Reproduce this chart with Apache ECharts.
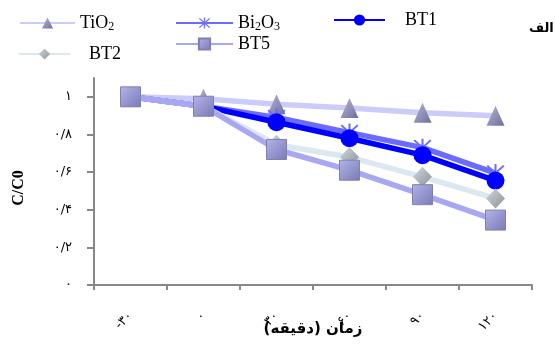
<!DOCTYPE html>
<html><head><meta charset="utf-8">
<script src="https://cdn.jsdelivr.net/npm/echarts@6/dist/echarts.min.js"></script>
<style>html,body{margin:0;padding:0;background:#fff}#c{width:555px;height:347px}</style>
</head><body><div id="c"></div>
<script>
const categories = ['-۳۰', '۰', '۳۰', '۶۰', '۹۰', '۱۲۰'];
const seriesNames = ['TiO2', 'Bi2O3', 'BT1', 'BT2', 'BT5'];
const tio2 = [1.0, 0.99, 0.96, 0.94, 0.915, 0.90];
const bi2o3 = [1.0, 0.95, 0.89, 0.81, 0.73, 0.595];
const bt1 = [1.0, 0.95, 0.865, 0.78, 0.69, 0.555];
const bt2 = [1.0, 0.95, 0.745, 0.68, 0.575, 0.46];
const bt5 = [1.0, 0.95, 0.72, 0.61, 0.48, 0.345];
const yTicks = [0, 0.2, 0.4, 0.6, 0.8, 1.0];
const yTickLabels = ['۰', '۰/۲', '۰/۴', '۰/۶', '۰/۸', '۱'];

const starPath = 'path://M9,0L11,0L11,20L9,20Z M1,2.4L2.4,1L19,17.6L17.6,19Z M19,2.4L17.6,1L1,17.6L2.4,19Z';
const serif = 'Liberation Serif';
const rich = { s: { fontSize: 12, fontFamily: serif, padding: [8, 0, 0, 0] }, n: { fontSize: 18, fontFamily: serif } };
function leg(name, left, top, w, pad) {
  return {
    data: [name], left: left, top: top, padding: 0, itemWidth: w, itemHeight: 14,
    formatter: function (n) {
      if (n === 'TiO2') return '{n|TiO}{s|2}';
      if (n === 'Bi2O3') return '{n|Bi}{s|2}{n|O}{s|3}';
      return '{n|' + n + '}';
    },
    textStyle: { fontSize: 18, fontFamily: serif, color: '#000', padding: [0, 0, 0, pad], rich: rich }
  };
}
function grad(c1, c2) {
  return new echarts.graphic.LinearGradient(0, 0, 1, 1, [{ offset: 0, color: c1 }, { offset: 1, color: c2 }]);
}
const chart = echarts.init(document.getElementById('c'), null, { renderer: 'canvas' });
chart.setOption({
  animation: false,
  backgroundColor: '#fff',
  legend: [
    leg('TiO2', 19, 14, 55, 0),
    leg('Bi2O3', 175, 14, 57, 0),
    leg('BT1', 333, 11, 51, 15),
    leg('BT2', 18, 45, 51, 14),
    leg('BT5', 175, 35, 57, 0)
  ],
  graphic: [{
    type: 'text', left: 529, top: 22,
    style: { text: 'الف', font: 'bold 13px "DejaVu Sans"', fill: '#000' }
  }, {
    type: 'text', x: 19, y: 188, rotation: Math.PI / 2,
    style: { text: 'C/C0', font: 'bold 16px "Liberation Serif"', fill: '#000', align: 'center', verticalAlign: 'middle' }
  }],
  grid: { left: 94, right: 23, top: 78, bottom: 62, outerBoundsMode: 'none', containLabel: false },
  xAxis: {
    type: 'category', data: categories, boundaryGap: true,
    axisLine: { lineStyle: { color: '#888', width: 2 } },
    axisTick: { show: true, interval: 0, length: 5, lineStyle: { color: '#888', width: 2 } },
    axisLabel: { interval: 0, rotate: 45, margin: 29, fontSize: 13, fontFamily: 'DejaVu Sans', color: '#000' },
    name: 'زمان (دقیقه)', nameLocation: 'middle', nameGap: 37, nameMoveOverlap: false,
    nameTextStyle: { fontSize: 15, fontWeight: 'bold', fontFamily: 'DejaVu Sans', color: '#000' }
  },
  yAxis: {
    type: 'value', min: 0, max: 1.1, interval: 0.2,
    axisLine: { show: true, lineStyle: { color: '#888', width: 2 } },
    axisTick: { show: true, length: 7, lineStyle: { color: '#888', width: 2 }, customValues: yTicks },
    axisLabel: {
      margin: 22, fontSize: 13, fontFamily: 'DejaVu Sans', color: '#000', customValues: yTicks,
      formatter: function (v) { const i = yTicks.findIndex(t => Math.abs(t - v) < 1e-6); return i >= 0 ? yTickLabels[i] : ''; }
    },
    splitLine: { show: false }
  },
  series: [
    { name: 'TiO2', type: 'line', data: tio2, symbol: 'triangle', symbolSize: [18, 20],
      lineStyle: { color: '#ccccfa', width: 5.5 }, itemStyle: { color: grad('#b8b8dc', '#6e6e98') }, color: '#ccccfa' },
    { name: 'Bi2O3', type: 'line', data: bi2o3, symbol: starPath, symbolSize: 18,
      lineStyle: { color: '#6b6bff', width: 5.5 }, itemStyle: { color: '#6b6bff' }, color: '#6b6bff' },
    { name: 'BT1', type: 'line', data: bt1, symbol: 'circle', symbolSize: 18,
      lineStyle: { color: '#0000ff', width: 5.5 }, itemStyle: { color: '#0000ff' }, color: '#0000ff' },
    { name: 'BT2', type: 'line', data: bt2, symbol: 'diamond', symbolSize: [19, 20],
      lineStyle: { color: '#dce8f0', width: 5.5 }, itemStyle: { color: grad('#d0d8de', '#8a9298') }, color: '#dce8f0' },
    { name: 'BT5', type: 'line', data: bt5, symbol: 'rect', symbolSize: 20,
      lineStyle: { color: '#a8a8f2', width: 5.5 }, itemStyle: { color: grad('#b4b4ec', '#7a7ab4'), borderColor: '#8080b0', borderWidth: 1 }, color: '#a8a8f2' }
  ]
});
</script></body></html>
